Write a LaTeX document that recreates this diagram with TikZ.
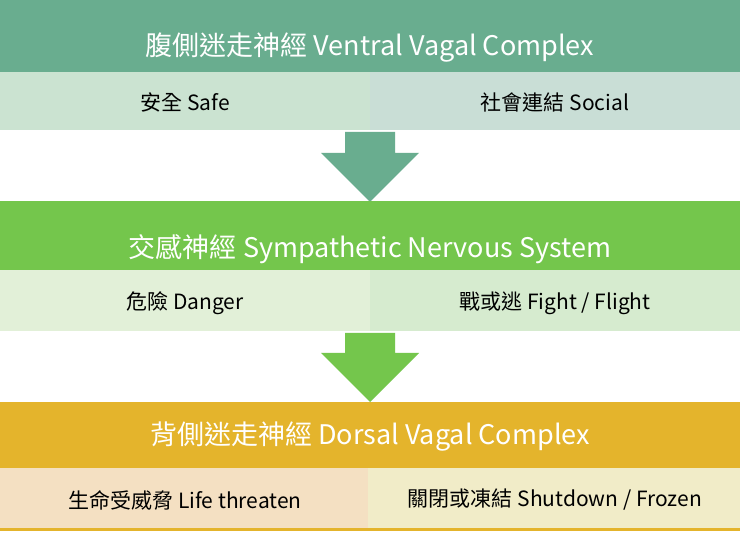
\documentclass[tikz,border=0pt]{standalone}
\usepackage{fontspec}
\setmainfont{Noto Sans CJK TC}
\definecolor{hA}{HTML}{69AD8F}
\definecolor{cA1}{HTML}{CBE3D1}
\definecolor{cA2}{HTML}{C9DED6}
\definecolor{hB}{HTML}{74C64C}
\definecolor{cB1}{HTML}{E2F0D8}
\definecolor{cB2}{HTML}{D6EBCF}
\definecolor{hC}{HTML}{E4B42C}
\definecolor{cC1}{HTML}{F4E0C2}
\definecolor{cC2}{HTML}{F1ECC8}
\tikzset{
 htext/.style={text=white,font=\fontsize{27}{32}\selectfont},
 ctext/.style={text=black,font=\fontsize{21}{25}\selectfont},
}
\begin{document}
\begin{tikzpicture}[x=1pt,y=-1pt]
\useasboundingbox (0,0) rectangle (740,537);
\fill[white] (0,0) rectangle (740,537);
% band A
\fill[hA] (0,0) rectangle (740,72);
\fill[cA1] (0,72) rectangle (370,130);
\fill[cA2] (370,72) rectangle (740,130);
\node[htext] (ha) at (370,48) {腹側迷走神經 Ventral Vagal Complex};
\node[ctext] (a1) at (185,102) {安全 Safe};
\node[ctext] (a2) at (555,102) {社會連結 Social};
% arrow 1
\fill[hA] (345,132) -- (395,132) -- (395,153) -- (419,153) -- (370,202) -- (321,153) -- (345,153) -- cycle;
% band B
\fill[hB] (0,201) rectangle (740,270);
\fill[cB1] (0,270) rectangle (370,331);
\fill[cB2] (370,270) rectangle (740,331);
\node[htext] (hb) at (370,249) {交感神經 Sympathetic Nervous System};
\node[ctext] (b1) at (185,303) {危險 Danger};
\node[ctext] (b2) at (555,303) {戰或逃 Fight / Flight};
% arrow 2
\fill[hB] (345,333) -- (395,333) -- (395,353) -- (419,353) -- (370,402) -- (321,353) -- (345,353) -- cycle;
% band C
\fill[hC] (0,402) rectangle (740,468);
\fill[cC1] (0,468) rectangle (368,528);
\fill[cC2] (368,468) rectangle (740,528);
\fill[hC] (0,528) rectangle (740,531);
\node[htext] (hc) at (370,437) {背側迷走神經 Dorsal Vagal Complex};
\node[ctext] (c1) at (185,500) {生命受威脅 Life threaten};
\node[ctext] (c2) at (555,500) {關閉或凍結 Shutdown / Frozen};
\end{tikzpicture}
\end{document}
